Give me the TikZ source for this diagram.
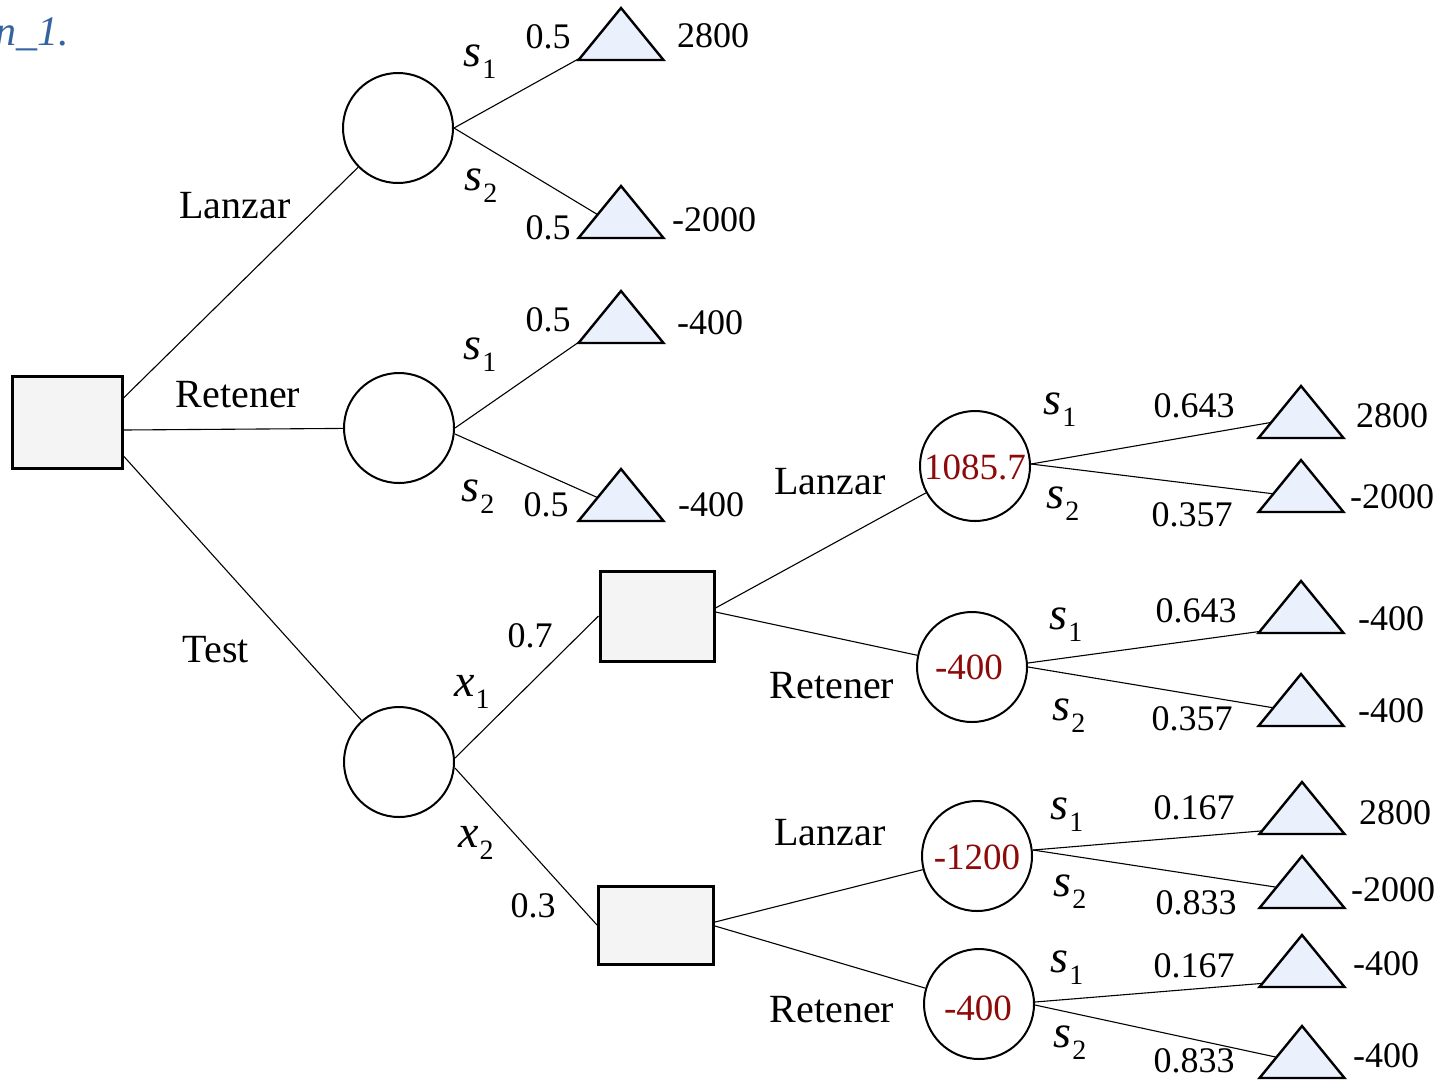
\documentclass[tikz,border=0pt]{standalone}
\usepackage{fontspec}
\setmainfont{Liberation Serif}
\usetikzlibrary{calc}
\definecolor{trifill}{RGB}{234,240,252}
\definecolor{boxfill}{RGB}{244,244,244}
\definecolor{valred}{RGB}{140,10,10}
\definecolor{titleblue}{RGB}{52,100,160}
\newcommand\ssub[2]{{\fontsize{46}{46}\selectfont\textit{#1}}\kern1pt\raisebox{-12pt}{\fontsize{28}{28}\selectfont #2}}
\newcommand\mytri[4]{%
  \draw[tristyle] (#2,#3) -- (#2+42.5,#3+52) -- (#2-42.5,#3+52) -- cycle;
  \coordinate (#1) at ($(#2-42.5,#3+52)!#4!(#2,#3)$);}
\begin{document}
\begin{tikzpicture}[x=1pt,y=-1pt,
  every node/.style={font=\fontsize{36}{40}\selectfont, inner sep=0pt},
  wordlab/.style={font=\fontsize{40}{44}\selectfont},
  chance/.style={draw, circle, line width=2pt, minimum size=110pt, fill=white},
  decision/.style={draw, rectangle, line width=3pt, fill=boxfill},
  tristyle/.style={draw, line width=2.4pt, fill=trifill, line join=miter},
  edge/.style={line width=1.1pt},
  val/.style={text=valred, font=\fontsize{37}{40}\selectfont}]
\useasboundingbox (0,0) rectangle (1442,1080);

% title fragment
\node[anchor=base east, text=titleblue, font=\fontsize{42}{46}\selectfont\itshape] (title) at (69,45) {n\_1.};

% decision nodes
\node[decision, minimum width=110pt, minimum height=92pt] (R) at (67,422) {};
\node[decision, minimum width=114pt, minimum height=90pt] (D1) at (657,616) {};
\node[decision, minimum width=115pt, minimum height=78pt] (D2) at (656,925) {};

% chance nodes
\node[chance] (C1) at (398,128) {};
\node[chance] (C2) at (399,428) {};
\node[chance] (C3) at (399,762) {};
\node[chance] (A) at (975,466) {};
\node[chance] (B) at (972,667) {};
\node[chance] (C) at (977,856) {};
\node[chance] (D) at (979,1004) {};

% connectors (ends are the named coordinates set by the triangles below)
\coordinate (T1) at ($(621-42.5,8+52)!0.04!(621,8)$);
\coordinate (T2) at ($(621-42.5,186+52)!0.45!(621,186)$);
\coordinate (T3) at ($(621-42.5,291+52)!0.03!(621,291)$);
\coordinate (T4) at ($(621-42.5,469+52)!0.45!(621,469)$);
\coordinate (T5) at ($(1301-42.5,386+52)!0.3!(1301,386)$);
\coordinate (T6) at ($(1301-42.5,460+52)!0.35!(1301,460)$);
\coordinate (T7) at ($(1301-42.5,581+52)!0.03!(1301,581)$);
\coordinate (T8) at ($(1301-42.5,674+52)!0.35!(1301,674)$);
\coordinate (T9) at ($(1302-42.5,782+52)!0.06!(1302,782)$);
\coordinate (T10) at ($(1302-42.5,856+52)!0.4!(1302,856)$);
\coordinate (T11) at ($(1302-42.5,935+52)!0.07!(1302,935)$);
\coordinate (T12) at ($(1302-42.5,1026+52)!0.4!(1302,1026)$);

\draw[edge] ([yshift=24pt]R.east) -- (C1);
\draw[edge] ([yshift=-8pt]R.east) -- (C2);
\draw[edge] ([yshift=-34pt]R.east) -- (C3);
\draw[edge] (C1.east) -- (T1);
\draw[edge] (C1.east) -- (T2);
\draw[edge] (C2.east) -- (T3);
\draw[edge] ([yshift=-6pt]C2.east) -- (T4);
\draw[edge] ([yshift=4pt]C3.east) -- (D1.west);
\draw[edge] ([yshift=-6pt]C3.east) -- (D2.west);
\draw[edge] ([yshift=8pt]D1.east) -- (A);
\draw[edge] ([yshift=4pt]D1.east) -- (B);
\draw[edge] ([yshift=3pt]D2.east) -- (C);
\draw[edge] ([yshift=-1pt]D2.east) -- (D);
\draw[edge] ([yshift=2pt]A.east) -- (T5);
\draw[edge] ([yshift=2pt]A.east) -- (T6);
\draw[edge] ([yshift=4pt]B.east) -- (T7);
\draw[edge] (B.east) -- (T8);
\draw[edge] ([yshift=6pt]C.east) -- (T9);
\draw[edge] ([yshift=6pt]C.east) -- (T10);
\draw[edge] ([yshift=2pt]D.east) -- (T11);
\draw[edge] ([yshift=-1pt]D.east) -- (T12);

% terminal triangles
\mytri{T1}{621}{8}{0.04}
\mytri{T2}{621}{186}{0.45}
\mytri{T3}{621}{291}{0.03}
\mytri{T4}{621}{469}{0.45}
\mytri{T5}{1301}{386}{0.3}
\mytri{T6}{1301}{460}{0.35}
\mytri{T7}{1301}{581}{0.03}
\mytri{T8}{1301}{674}{0.35}
\mytri{T9}{1302}{782}{0.06}
\mytri{T10}{1302}{856}{0.4}
\mytri{T11}{1302}{935}{0.07}
\mytri{T12}{1302}{1026}{0.4}

% values in circles
\node[val] (vA) at (975,467) {1085.7};
\node[val] (vB) at (969,667) {-400};
\node[val] (vC) at (977,857) {-1200};
\node[val] (vD) at (978,1008) {-400};

% branch words
\node[wordlab] (l1) at (235,206) {Lanzar};
\node[wordlab] (l2) at (238,395) {Retener};
\node[wordlab] (l3) at (216,650) {Test};
\node[wordlab] (l4) at (830,482) {Lanzar};
\node[wordlab] (l5) at (832,686) {Retener};
\node[wordlab] (l6) at (830,833) {Lanzar};
\node[wordlab] (l7) at (832,1010) {Retener};

% state labels
\node (s1) at (480,62) {\ssub{s}{1}};
\node (s2) at (481,186) {\ssub{s}{2}};
\node (s3) at (480,355) {\ssub{s}{1}};
\node (s4) at (478,497) {\ssub{s}{2}};
\node (x1) at (472,692) {\ssub{x}{1}};
\node (x2) at (476,843) {\ssub{x}{2}};
\node (s5) at (1060,410) {\ssub{s}{1}};
\node (s6) at (1063,504) {\ssub{s}{2}};
\node (s7) at (1066,625) {\ssub{s}{1}};
\node (s8) at (1069,716) {\ssub{s}{2}};
\node (s9) at (1067,815) {\ssub{s}{1}};
\node (s10) at (1070,892) {\ssub{s}{2}};
\node (s11) at (1067,968) {\ssub{s}{1}};
\node (s12) at (1070,1043) {\ssub{s}{2}};

% probabilities
\node (p1) at (548,37) {0.5};
\node (p2) at (548,228) {0.5};
\node (p3) at (548,320) {0.5};
\node (p4) at (546,505) {0.5};
\node (p5) at (530,636) {0.7};
\node (p6) at (533,906) {0.3};
\node (p7) at (1194,406) {0.643};
\node (p8) at (1192,515) {0.357};
\node (p9) at (1196,611) {0.643};
\node (p10) at (1192,719) {0.357};
\node (p11) at (1194,808) {0.167};
\node (p12) at (1196,903) {0.833};
\node (p13) at (1194,966) {0.167};
\node (p14) at (1194,1061) {0.833};

% payoffs
\node (v1) at (713,36) {2800};
\node (v2) at (714,220) {-2000};
\node (v3) at (710,323) {-400};
\node (v4) at (711,505) {-400};
\node (v5) at (1392,416) {2800};
\node (v6) at (1392,497) {-2000};
\node (v7) at (1391,619) {-400};
\node (v8) at (1391,711) {-400};
\node (v9) at (1395,813) {2800};
\node (v10) at (1393,890) {-2000};
\node (v11) at (1386,964) {-400};
\node (v12) at (1386,1056) {-400};
\end{tikzpicture}
\end{document}
